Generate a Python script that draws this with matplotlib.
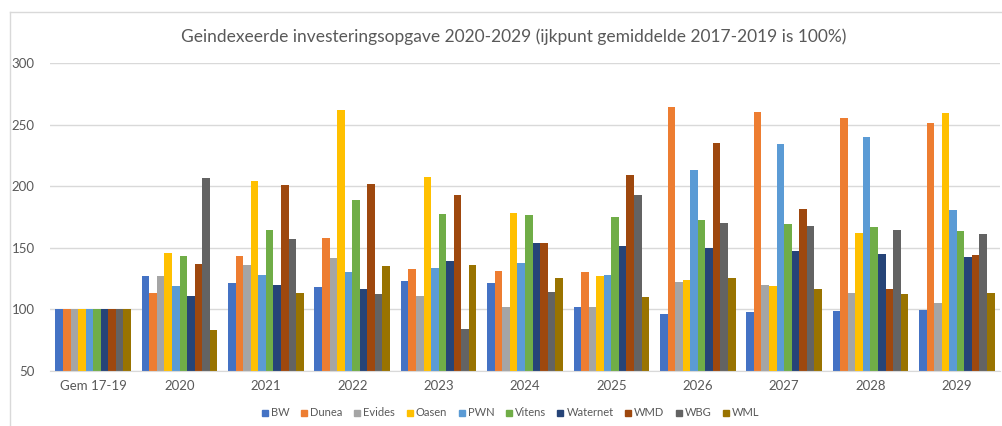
import matplotlib.pyplot as plt
from matplotlib.lines import Line2D
import numpy as np

plt.rcParams['font.family'] = ['Lato', 'DejaVu Sans']

# data
categories = ['Gem 17-19', '2020', '2021', '2022', '2023', '2024', '2025', '2026', '2027', '2028', '2029']
companies = ['BW', 'Dunea', 'Evides', 'Oasen', 'PWN', 'Vitens', 'Waternet', 'WMD', 'WBG', 'WML']
bw = [100, 127.3, 121.1, 118.4, 123.0, 121.7, 102.2, 96.2, 97.6, 98.6, 99.2]
dunea = [100, 113.5, 143.3, 158.2, 132.7, 131.1, 130.0, 264.5, 260.2, 255.9, 251.8]
evides = [100, 126.8, 135.7, 141.9, 110.8, 102.2, 102.2, 121.9, 119.8, 113.5, 105.4]
oasen = [100, 146.0, 204.2, 261.8, 207.7, 178.5, 127.1, 123.5, 118.9, 161.7, 259.4]
pwn = [100, 119.2, 127.9, 130.0, 133.8, 137.9, 127.6, 213.4, 234.5, 239.9, 180.6]
vitens = [100, 143.3, 164.1, 188.8, 177.7, 176.6, 174.7, 172.5, 169.3, 166.8, 163.6]
waternet = [100, 110.8, 119.5, 116.2, 139.0, 153.6, 151.7, 149.5, 147.1, 144.9, 142.2]
wmd = [100, 136.5, 200.9, 201.8, 192.8, 154.1, 209.0, 235.3, 181.2, 116.5, 143.8]
wbg = [100, 206.9, 156.8, 112.4, 83.8, 113.8, 192.8, 169.8, 167.4, 164.7, 161.4]
wml = [100, 82.9, 113.0, 134.9, 135.7, 125.2, 109.7, 125.2, 116.5, 112.2, 113.0]
series = [bw, dunea, evides, oasen, pwn, vitens, waternet, wmd, wbg, wml]

colors = ['#4472C4', '#ED7D31', '#A5A5A5', '#FFC000', '#5B9BD5',
          '#70AD47', '#264478', '#9E480E', '#636363', '#997300']
txt = '#595959'
grid = '#D9D9D9'

fig = plt.figure(figsize=(10.02, 4.26), dpi=100)
ax = fig.add_axes([50 / 1002, 1 - 370.7 / 426, 950 / 1002, (370.7 - 63.3) / 426])

x = np.arange(len(categories))
w = 0.0875
for i, (vals, c) in enumerate(zip(series, colors)):
    ax.bar(x + (i - 4.5) * w, vals, w, color=c, label=companies[i], zorder=2)

ax.set_xlim(-0.5, len(categories) - 0.5)
ax.set_ylim(50, 300)
ax.set_yticks([50, 100, 150, 200, 250, 300])
ax.set_xticks(x)
ax.set_xticklabels(categories)
ax.yaxis.grid(True, color=grid, lw=1, zorder=0)
for s in ['top', 'right', 'left']:
    ax.spines[s].set_visible(False)
ax.spines['bottom'].set_color(grid)
ax.tick_params(length=0, colors=txt, labelsize=9.5)
ax.tick_params(axis='y', pad=11)
ax.tick_params(axis='x', pad=7)

# chart frame
fig.add_artist(Line2D([10 / 1002, 10 / 1002], [0, 1 - 12 / 426], color=grid, lw=1))
fig.add_artist(Line2D([10 / 1002, 1], [1 - 12 / 426, 1 - 12 / 426], color=grid, lw=1))

fig.text(514 / 1002, 1 - 37 / 426, 'Geindexeerde investeringsopgave 2020-2029 (ijkpunt gemiddelde 2017-2019 is 100%)',
         ha='center', va='center', fontsize=12.5, color=txt)

handles = [Line2D([], [], marker='s', linestyle='', color=c, markersize=5) for c in colors]
leg = fig.legend(handles, companies, loc='center', bbox_to_anchor=(510 / 1002, 1 - 413 / 426),
                 ncol=10, frameon=False, fontsize=8, handletextpad=0.1, columnspacing=0.85,
                 handlelength=0.9)
for t in leg.get_texts():
    t.set_color(txt)

fig.savefig('out.png', dpi=100)
